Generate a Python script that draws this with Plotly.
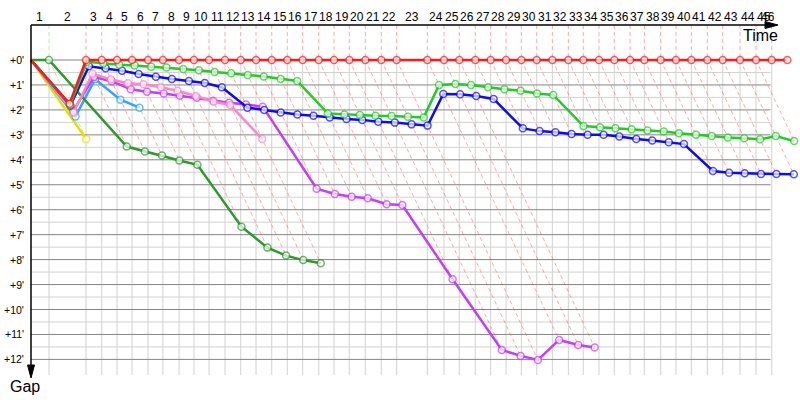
import plotly.graph_objects as go

# ---------------- data ----------------
# cumulative race time (minutes) of the race leader at the end of each lap (index = lap)
leader_time = [0.00, 1.53, 4.68, 6.02, 7.32, 8.60, 9.96, 11.23, 12.60, 13.87, 15.15,
               16.51, 17.85, 19.15, 20.49, 21.81, 23.12, 24.49, 25.79, 27.09, 28.45,
               29.81, 31.12, 33.73, 35.15, 36.45, 37.81, 39.12, 40.43, 41.73, 43.04,
               44.37, 45.73, 47.00, 48.34, 49.64, 50.98, 52.20, 53.59, 54.89, 56.20,
               57.56, 58.87, 60.34, 61.70, 63.04, 64.37]
lap_labels = [str(n) for n in range(1, 47)]

# gap to leader (minutes) at end of each lap, starting at lap 0
gap_red = [0, 1.75, 0, 0, 0, 0, 0, 0, 0, 0, 0, 0, 0, 0, 0, 0, 0, 0, 0, 0, 0, 0, 0, 0,
           0, 0, 0, 0, 0, 0, 0, 0, 0, 0, 0, 0, 0, 0, 0, 0, 0, 0, 0, 0, 0, 0, 0]
gap_green = [0, 1.80, 0.07, 0.14, 0.19, 0.22, 0.27, 0.30, 0.36, 0.41, 0.48, 0.53, 0.60,
             0.66, 0.76, 0.84, 2.14, 2.18, 2.20, 2.23, 2.24, 2.27, 2.30, 1.00, 0.96,
             1.00, 1.09, 1.17, 1.23, 1.34, 1.40, 2.65, 2.70, 2.74, 2.78, 2.83, 2.87,
             2.94, 3.00, 3.05, 3.11, 3.14, 3.18, 3.05, 3.25]
gap_blue = [0, 1.82, 0.25, 0.33, 0.43, 0.56, 0.67, 0.76, 0.84, 0.92, 1.09, 1.91, 2.00,
            2.10, 2.18, 2.23, 2.30, 2.36, 2.40, 2.47, 2.51, 2.58, 2.63, 1.36, 1.37,
            1.44, 1.56, 2.74, 2.85, 2.90, 2.97, 3.00, 3.00, 3.07, 3.17, 3.23, 3.30,
            3.37, 4.45, 4.52, 4.54, 4.57, 4.57, 4.58]
gap_magenta = [0, 2.05, 0.68, 0.85, 1.17, 1.27, 1.34, 1.43, 1.51, 1.63, 1.71, 1.78, 1.87,
               5.16, 5.37, 5.48, 5.54, 5.78, 5.81, 8.79, 11.62, 11.86, 12.02, 11.22,
               11.42, 11.52]
gap_pink = [0, 2.10, 0.55, 0.78, 0.93, 0.97, 1.09, 1.23, 1.44, 1.67, 1.80, 3.17]
gap_cyan = [0, 2.26, 0.77, 1.59, 1.91]
gap_darkgreen = [0, 0, 3.47, 3.67, 3.83, 4.03, 4.20, 6.68, 7.52, 7.84, 8.02, 8.15]
gap_yellow = [0, 3.17]

gap_ticks = list(range(0, 13))
gap_tick_labels = ["+%d'" % g for g in gap_ticks]

# drawing order: bottom -> top
drivers = [
    ("yellow", gap_yellow, "#e2e200"),
    ("cyan", gap_cyan, "#2ea6ff"),
    ("darkgreen", gap_darkgreen, "#2e9a2e"),
    ("magenta", gap_magenta, "#c63cff"),
    ("pink", gap_pink, "#ff86c4"),
    ("blue", gap_blue, "#0a0aff"),
    ("green", gap_green, "#22cc22"),
    ("red", gap_red, "#ff1a1a"),
]

# ---------------- layout geometry ----------------
W, H = 800, 400
SX, X0 = 11.75, 31.0     # px per minute (time), px of time 0
SY, Y0 = 24.95, 60.0     # px per minute (gap), px of gap 0
x_range = [-X0 / SX, (W - X0) / SX]
y_range = [(H - Y0) / SY, -Y0 / SY]
top_gap = (25 - Y0) / SY          # top axis line
grid_x_end = (770.5 - X0) / SX
grid_y_end = (375 - Y0) / SY
label_limit = (768 - X0) / SX

fig = go.Figure()
shapes = []

# vertical grid lines at lap times
for n in range(1, 46):
    t = leader_time[n]
    shapes.append(dict(type="line", xref="x", yref="y", x0=t, x1=t, y0=0, y1=grid_y_end,
                       line=dict(color="#d2d2d2", width=1), layer="below"))
# horizontal grid lines
for k in range(0, 25):
    g = k * 0.5
    dark = (k % 2 == 0)
    shapes.append(dict(type="line", xref="x", yref="y", x0=0, x1=grid_x_end, y0=g, y1=g,
                       line=dict(color="#858585" if dark else "#d2d2d2", width=1),
                       layer="below"))

# lap "isochrone" dashed lines
dash_groups = {}
for n in range(1, 46):
    present = [(name, gaps[n], col) for name, gaps, col in drivers if len(gaps) > n]
    leader = [p for p in present if p[1] == 0]
    lead_name = leader[0][0] if leader else "red"
    gmax = max(p[1] for p in present)
    t = leader_time[n]
    xs = [t, t, t + gmax, None]
    ys = [top_gap, 0, gmax, None]
    dash_groups.setdefault(lead_name, ([], []))
    dash_groups[lead_name][0].extend(xs)
    dash_groups[lead_name][1].extend(ys)

dash_colors = {"red": "rgba(255,50,50,0.42)", "darkgreen": "rgba(40,170,40,0.30)"}
for name, (xs, ys) in dash_groups.items():
    fig.add_trace(go.Scatter(x=xs, y=ys, mode="lines", hoverinfo="skip",
                             line=dict(color=dash_colors.get(name, "rgba(255,50,50,0.42)"),
                                       width=1, dash="4px,3px"),
                             showlegend=False))

# driver traces
for name, gaps, col in drivers:
    xs = [leader_time[n] + g for n, g in enumerate(gaps)]
    ys = list(gaps)
    sizes = [0] + [7] * (len(gaps) - 1)
    fig.add_trace(go.Scatter(x=xs, y=ys, mode="lines+markers", name=name,
                             line=dict(color=col, width=2.5),
                             marker=dict(symbol="circle", size=sizes, color="white",
                                         line=dict(color=col, width=1.5)),
                             cliponaxis=False, showlegend=False))

# axes (time on top, gap on left) with arrows
def px(x):
    return x / W

def py(y):
    return 1 - y / H

shapes.append(dict(type="line", xref="paper", yref="paper", x0=px(31), x1=px(770),
                   y0=py(25), y1=py(25), line=dict(color="black", width=1.5)))
shapes.append(dict(type="path", xref="paper", yref="paper",
                   path="M %f %f L %f %f L %f %f Z" % (px(765), py(21.5), px(778), py(25),
                                                        px(765), py(28.5)),
                   fillcolor="black", line=dict(color="black", width=1)))
shapes.append(dict(type="line", xref="paper", yref="paper", x0=px(31), x1=px(31),
                   y0=py(25), y1=py(368), line=dict(color="black", width=1.5)))
shapes.append(dict(type="path", xref="paper", yref="paper",
                   path="M %f %f L %f %f L %f %f Z" % (px(27.5), py(365), px(31), py(378),
                                                        px(34.5), py(365)),
                   fillcolor="black", line=dict(color="black", width=1)))

annotations = []
FONT = "Liberation Sans"
for n, lab in enumerate(lap_labels, start=1):
    mid = (leader_time[n - 1] + leader_time[n]) / 2
    mid = min(mid, label_limit)
    annotations.append(dict(x=mid, y=py(17), xref="x", yref="paper", text=lab,
                            showarrow=False, xanchor="center", yanchor="middle",
                            font=dict(family=FONT, size=12, color="black")))
for g, lab in zip(gap_ticks, gap_tick_labels):
    annotations.append(dict(x=px(26), y=g, xref="paper", yref="y", text=lab,
                            showarrow=False, xanchor="right", yanchor="middle",
                            font=dict(family=FONT, size=10.5, color="black")))
annotations.append(dict(x=px(760), y=py(36), xref="paper", yref="paper", text="Time",
                        showarrow=False, xanchor="center", yanchor="middle",
                        font=dict(family=FONT, size=16, color="black")))
annotations.append(dict(x=px(25), y=py(386), xref="paper", yref="paper", text="Gap",
                        showarrow=False, xanchor="center", yanchor="middle",
                        font=dict(family=FONT, size=16, color="black")))

fig.update_layout(
    width=W, height=H,
    margin=dict(l=0, r=0, t=0, b=0, pad=0),
    paper_bgcolor="white", plot_bgcolor="white",
    xaxis=dict(range=x_range, visible=False, fixedrange=True),
    yaxis=dict(range=y_range, visible=False, fixedrange=True),
    shapes=shapes, annotations=annotations,
    showlegend=False,
)

fig.write_html("out.html",
               config={"displayModeBar": False},
               post_script="document.body.style.margin='0px';"
                           "document.body.style.overflow='hidden';")
